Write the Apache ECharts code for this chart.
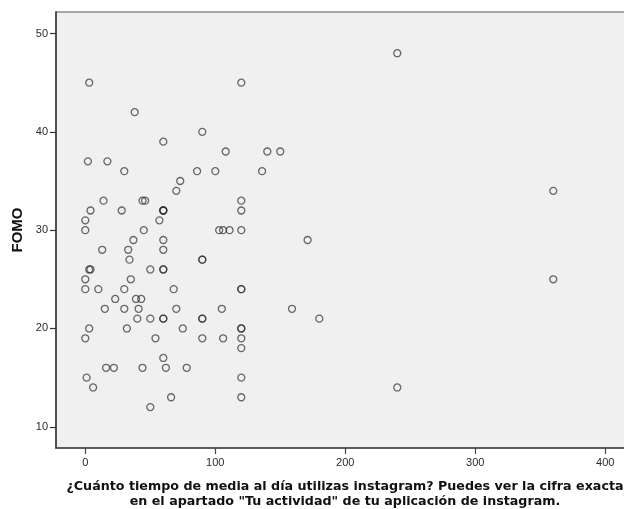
<!DOCTYPE html>
<html>
<head>
<meta charset="utf-8">
<script src="https://cdn.jsdelivr.net/npm/echarts@6/dist/echarts.min.js"></script>
<style>
  html, body { margin: 0; padding: 0; background: #ffffff; }
  #chart { width: 624px; height: 509px; }
</style>
</head>
<body>
<div id="chart"></div>
<script>
// Minutes of Instagram use per day (x) and FOMO score (y), one entry per respondent
const minutosInstagram = [
  3, 120, 240, 38, 90, 60, 108, 140, 150, 2, 17,
  30, 86, 100, 136, 73, 70, 360,
  14, 44, 46, 120,
  4, 28, 60, 60, 60, 120,
  0, 57,
  0, 45, 103, 106, 111, 120,
  37, 60, 171,
  13, 33, 60,
  34, 90, 90,
  3, 4, 50, 60, 60,
  0, 35, 360,
  0, 10, 30, 68, 120, 120,
  23, 39, 43,
  15, 30, 41, 70, 105, 159,
  40, 50, 60, 60, 90, 90, 180,
  3, 32, 75, 120, 120,
  0, 54, 90, 106, 120,
  120,
  60,
  16, 22, 44, 62, 78,
  1, 120,
  6, 240,
  66, 120,
  50
];
const puntuacionFomo = [
  45, 45, 48, 42, 40, 39, 38, 38, 38, 37, 37,
  36, 36, 36, 36, 35, 34, 34,
  33, 33, 33, 33,
  32, 32, 32, 32, 32, 32,
  31, 31,
  30, 30, 30, 30, 30, 30,
  29, 29, 29,
  28, 28, 28,
  27, 27, 27,
  26, 26, 26, 26, 26,
  25, 25, 25,
  24, 24, 24, 24, 24, 24,
  23, 23, 23,
  22, 22, 22, 22, 22, 22,
  21, 21, 21, 21, 21, 21, 21,
  20, 20, 20, 20, 20,
  19, 19, 19, 19, 19,
  18,
  17,
  16, 16, 16, 16, 16,
  15, 15,
  14, 14,
  13, 13,
  12
];
const ticksX = [0, 100, 200, 300, 400];
const ticksY = [10, 20, 30, 40, 50];

const tituloX = '¿Cuánto tiempo de media al día utilizas instagram? Puedes ver la cifra exacta\n' +
                'en el apartado "Tu actividad" de tu aplicación de instagram.';
const tituloY = 'FOMO';

const puntos = minutosInstagram.map((m, i) => [m, puntuacionFomo[i]]);

const chart = echarts.init(document.getElementById('chart'), null, { renderer: 'canvas' });

const fuente = 'Arial, "Liberation Sans", sans-serif';

chart.setOption({
  animation: false,
  backgroundColor: '#ffffff',
  grid: {
    left: 56,
    top: 12,
    width: 578,
    bottom: 61,
    outerBoundsMode: 'none',
    containLabel: false,
    show: true,
    backgroundColor: '#f0f0f0',
    borderColor: '#8c8c8c',
    borderWidth: 1.5
  },
  xAxis: {
    type: 'value',
    min: -22.54,
    max: 422.1,
    splitLine: { show: false },
    axisLine: { show: true, onZero: false, lineStyle: { color: '#444444', width: 1.5 } },
    axisTick: { show: true, customValues: ticksX, length: 6, lineStyle: { color: '#444444', width: 1.2 } },
    axisLabel: {
      customValues: ticksX,
      margin: 9,
      color: '#2a2a2a',
      fontSize: 11,
      fontFamily: fuente
    },
    name: tituloX,
    nameLocation: 'middle',
    nameGap: 31.5,
    nameTextStyle: {
      color: '#111111',
      fontSize: 12.7,
      fontWeight: 'bold',
      fontFamily: '"DejaVu Sans", Verdana, sans-serif',
      lineHeight: 15
    }
  },
  yAxis: {
    type: 'value',
    min: 7.84,
    max: 52.19,
    splitLine: { show: false },
    axisLine: { show: true, onZero: false, lineStyle: { color: '#333333', width: 1.5 } },
    axisTick: { show: true, customValues: ticksY, length: 6, lineStyle: { color: '#333333', width: 1.2 } },
    axisLabel: {
      customValues: ticksY,
      margin: 8,
      color: '#2a2a2a',
      fontSize: 11,
      fontFamily: fuente
    },
    name: tituloY,
    nameLocation: 'middle',
    nameGap: 28.5,
    nameRotate: 90,
    nameTextStyle: {
      color: '#111111',
      fontSize: 15,
      fontWeight: 'bold',
      fontFamily: fuente
    }
  },
  series: [{
    type: 'scatter',
    data: puntos,
    symbol: 'circle',
    symbolSize: 7,
    silent: true,
    itemStyle: {
      color: 'rgba(0,0,0,0)',
      borderColor: 'rgba(40,40,40,0.85)',
      borderWidth: 1.3
    }
  }]
});
</script>
</body>
</html>
